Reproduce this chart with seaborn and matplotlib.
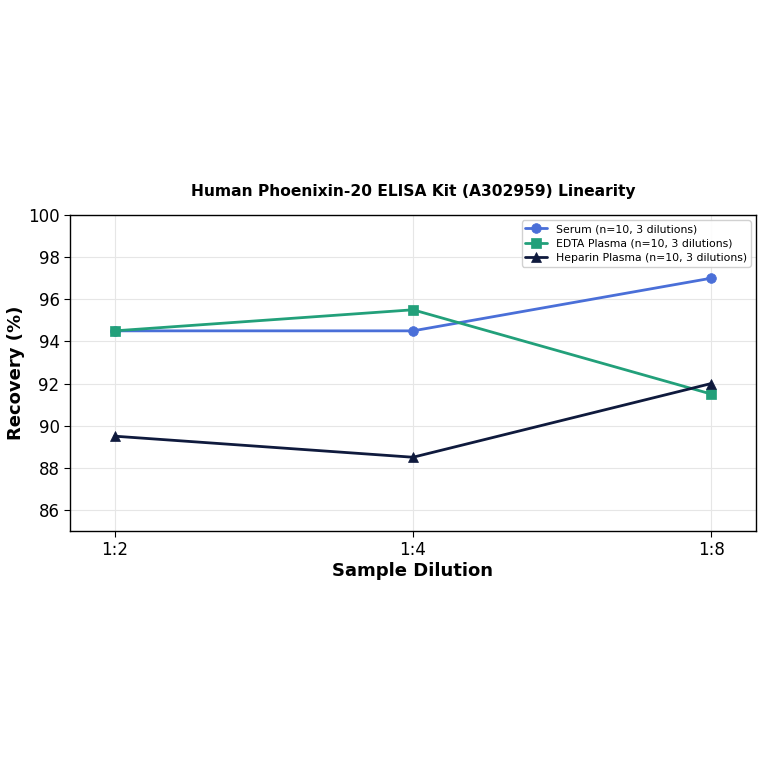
import pandas as pd
import seaborn as sns
from matplotlib import pyplot as plt

dilutions = ["1:2", "1:4", "1:8"]
serum = [94.5, 94.5, 97.0]
edta = [94.5, 95.5, 91.5]
heparin = [89.5, 88.5, 92.0]

series = [
    ("Serum (n=10, 3 dilutions)", serum, "#4a6fd8", "o"),
    ("EDTA Plasma (n=10, 3 dilutions)", edta, "#22a07a", "s"),
    ("Heparin Plasma (n=10, 3 dilutions)", heparin, "#0f1a3d", "^"),
]

sns.set_style("white")
plt.rcParams['font.family'] = ['DejaVu Sans']
plt.rcParams['text.color'] = 'black'
plt.rcParams['axes.labelcolor'] = 'black'
plt.rcParams['xtick.color'] = 'black'
plt.rcParams['ytick.color'] = 'black'

fig = plt.figure(figsize=(7.64, 7.64), dpi=100)
ax = fig.add_axes([0.0916, 0.305, 0.8979, 0.4136])

for name, vals, color, mk in series:
    df = pd.DataFrame({"x": range(len(dilutions)), "y": vals})
    sns.lineplot(data=df, x="x", y="y", ax=ax, color=color, marker=mk,
                 markersize=7, linewidth=2, markeredgewidth=0.5,
                 markeredgecolor=color, label=name)

ax.set_xticks(range(len(dilutions)))
ax.set_xticklabels(dilutions)
ax.set_xlim(-0.15, 2.15)
ax.set_ylim(85, 100)
ax.set_yticks(range(86, 101, 2))
ax.grid(True, color="#e6e6e6", linewidth=0.8)
ax.tick_params(labelsize=12, length=4, direction="out", left=True, bottom=True)
for s in ax.spines.values():
    s.set_color("black")
    s.set_linewidth(1.0)

ax.set_xlabel("Sample Dilution", fontsize=13, fontweight="bold", labelpad=2)
ax.set_ylabel("Recovery (%)", fontsize=13, fontweight="bold", labelpad=2)
ax.set_title("Human Phoenixin-20 ELISA Kit (A302959) Linearity",
             fontsize=11.2, fontweight="bold", pad=14)
ax.legend(loc="upper right", fontsize=7.8, frameon=True, framealpha=0.9,
          borderpad=0.35, handlelength=2.0, labelspacing=0.4)

fig.savefig("out.png", dpi=100)
